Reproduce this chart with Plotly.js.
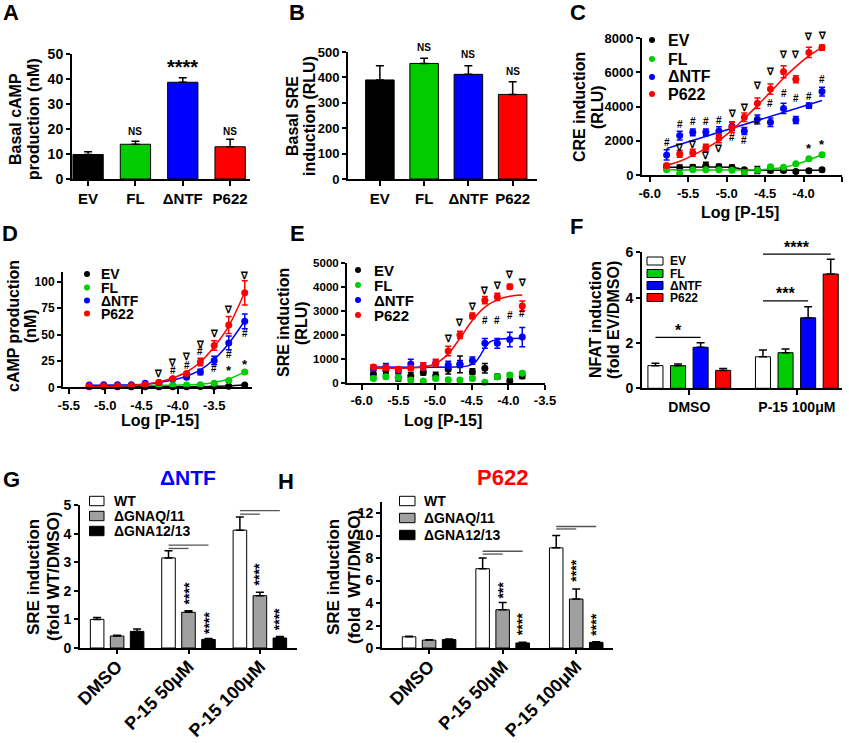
<!DOCTYPE html>
<html><head><meta charset="utf-8">
<script src="https://cdn.plot.ly/plotly-3.0.1.min.js"></script>
<style>html,body{margin:0;padding:0;background:#fff}</style>
</head><body><div id="chart" style="width:849px;height:743px"></div>
<script>
// ================= DATA =================
const groups4 = ['EV', 'FL', 'ΔNTF', 'P622'];
const colors4 = ['#000000', '#00cc00', '#0000ff', '#ff0000'];

// A: basal cAMP (nM)
const aVal = [9.8, 13.9, 38.7, 12.9];
const aErr = [1.1, 1.2, 1.8, 3.0];
// B: basal SRE (RLU)
const bVal = [390, 455, 412, 333];
const bErr = [56, 20, 34, 50];

// C: CRE induction vs log[P-15]
const cX = [-5.78, -5.61, -5.44, -5.27, -5.10, -4.93, -4.77, -4.60, -4.43, -4.26, -4.10, -3.93, -3.76];
const cEV = [450, 430, 450, 540, 480, 440, 300, 290, 280, 270, 200, 250, 300];
const cEVe = [100, 150, 150, 200, 150, 150, 100, 200, 150, 100, 100, 100, 100];
const cFL = [300, 80, 300, 300, 300, 280, 80, 280, 480, 450, 650, 950, 1180];
const cFLe = [50, 50, 50, 50, 50, 50, 50, 50, 80, 50, 50, 50, 100];
const cNTF = [1170, 2300, 2490, 2490, 2570, 2850, 2570, 3250, 3075, 3890, 3210, 4050, 4870];
const cNTFe = [300, 250, 200, 200, 250, 250, 200, 250, 250, 300, 200, 150, 250];
const cP622 = [560, 1230, 1300, 1600, 2140, 2780, 3370, 4190, 5020, 6030, 5590, 7160, 7440];
const cP622e = [100, 200, 200, 200, 250, 300, 250, 300, 300, 350, 200, 300, 150];
// fitted curves
const cFitP622X = [-5.78, -5.61, -5.44, -5.27, -5.10, -4.93, -4.77, -4.60, -4.43, -4.26, -4.10, -3.93, -3.76];
const cFitP622 = [560, 800, 1150, 1550, 2020, 2620, 3300, 4050, 4850, 5650, 6330, 6950, 7450];
const cFitNTFX = [-5.78, -3.76];
const cFitNTF = [1550, 4350];
const cFitEVX = [-5.78, -4.93, -4.85, -4.77, -4.60, -3.76];
const cFitEV = [450, 450, 390, 300, 280, 280];
const cFitFLX = [-5.78, -4.60, -4.43, -4.26, -4.10, -3.93, -3.76];
const cFitFL = [300, 300, 350, 450, 620, 880, 1180];
// significance marks
const cHashX = [-5.78, -5.61, -5.44, -5.27, -5.10, -4.93, -4.77, -4.60, -4.43, -4.26, -4.10, -3.93, -3.76];
const cHashY = [1890, 2920, 3110, 3110, 3210, 2180, 2040, 3110, 4190, 4730, 4440, 4570, 5550];
const cNablaX = [-5.61, -5.44, -5.27, -5.10, -4.93, -4.77, -4.60, -4.43, -4.26, -4.10, -3.93, -3.76];
const cNablaY = [1620, 1810, 1110, 1560, 3600, 3950, 5250, 6030, 7050, 7050, 8080, 8120];
const cStarX = [-3.93, -3.76];
const cStarY = [1560, 1810];
const cTickVals = [-6, -5.5, -5, -4.5, -4, -3.5];
const cTickText = ['-6.0', '-5.5', '-5.0', '-4.5', '-4.0', '-3.5'];

// D: cAMP production vs log[P-15]
const dX = [-5.22, -5.02, -4.83, -4.64, -4.45, -4.26, -4.07, -3.88, -3.69, -3.50, -3.30, -3.08];
const dEV = [0.5, 0.5, 0.5, 0.5, 0.6, 0.6, 0.6, 0.6, 0.7, 0.8, 1.0, 2.2];
const dEVe = [0.2, 0.2, 0.2, 0.2, 0.2, 0.2, 0.2, 0.2, 0.2, 0.2, 0.3, 0.4];
const dFL = [1.5, 1.6, 1.6, 1.8, 2.0, 2.0, 2.1, 2.2, 2.5, 3.8, 6.5, 14.5];
const dFLe = [0.3, 0.3, 0.3, 0.3, 0.3, 0.3, 0.3, 0.3, 0.4, 0.6, 1.0, 1.2];
const dNTF = [2.2, 2.3, 2.3, 2.5, 3.8, 4.5, 7.8, 9.5, 14.5, 25.5, 42, 62.5];
const dNTFe = [0.4, 0.4, 0.4, 0.4, 0.5, 0.6, 1.0, 1.5, 2.5, 4, 6.5, 7];
const dP622 = [1.0, 1.2, 1.3, 1.5, 2.5, 4.5, 8, 13, 24, 39.5, 59, 89.5];
const dP622e = [0.3, 0.3, 0.3, 0.3, 0.4, 0.6, 1.0, 1.5, 3.5, 4.5, 8, 11.5];
const dFitX = [-5.22, -4.83, -4.45, -4.26, -4.07, -3.88, -3.69, -3.50, -3.30, -3.08];
const dFitP622 = [0.8, 1.0, 2.8, 5.0, 8.8, 14.5, 24, 38.5, 58, 90];
const dFitNTF = [2.0, 2.1, 3.0, 4.6, 7.0, 10.5, 16.5, 26.5, 41.5, 63];
const dFitFL = [1.5, 1.6, 1.8, 1.9, 2.0, 2.3, 3.0, 4.6, 7.8, 14.6];
const dFitEV = [0.4, 0.4, 0.45, 0.5, 0.5, 0.55, 0.65, 0.9, 1.4, 2.4];
const dNablaX = [-4.26, -4.07, -3.88, -3.69, -3.50, -3.30, -3.08];
const dNablaY = [13.3, 23.3, 29, 41, 51, 74, 106];
const dHashX = [-4.07, -3.88, -3.69, -3.50, -3.30, -3.08];
const dHashY = [15.7, 21, 33.7, 18, 31.5, 51];
const dStarX = [-3.30, -3.08];
const dStarY = [15.7, 22];
const dTickVals = [-5.5, -5, -4.5, -4, -3.5];
const dTickText = ['-5.5', '-5.0', '-4.5', '-4.0', '-3.5'];

// E: SRE induction vs log[P-15]
const eX = [-5.84, -5.67, -5.50, -5.33, -5.16, -4.99, -4.82, -4.66, -4.49, -4.32, -4.15, -3.98, -3.81];
const eEV = [360, 530, 220, 280, 420, 290, 560, 760, 460, 600, 250, 70, 280];
const eEVe = [150, 150, 150, 150, 100, 150, 200, 350, 120, 200, 100, 100, 100];
const eFL = [180, 250, 220, 110, 70, 180, 125, 110, 170, 20, 250, 320, 390];
const eFLe = [80, 80, 80, 80, 50, 80, 80, 80, 80, 60, 80, 80, 80];
const eNTF = [600, 650, 500, 780, 670, 800, 740, 780, 920, 1640, 1640, 1800, 1900];
const eNTFe = [100, 150, 100, 200, 150, 150, 150, 150, 150, 200, 200, 300, 400];
const eP622 = [650, 620, 560, 610, 680, 830, 1320, 1990, 2780, 3440, 3580, 4000, 3200];
const eP622e = [100, 100, 100, 100, 150, 150, 200, 150, 120, 150, 150, 100, 200];
const eFitP622X = [-5.84, -5.33, -5.16, -4.99, -4.82, -4.66, -4.49, -4.32, -4.15, -3.98, -3.81];
const eFitP622 = [600, 610, 650, 800, 1200, 1850, 2600, 3150, 3450, 3600, 3650];
const eFitNTFX = [-5.84, -4.66, -4.55, -4.45, -4.38, -4.32, -4.25, -4.15, -3.98, -3.81];
const eFitNTF = [650, 660, 700, 850, 1150, 1450, 1700, 1800, 1840, 1850];
const eNablaX = [-4.82, -4.66, -4.49, -4.32, -4.15, -3.98, -3.81];
const eNablaY = [1850, 2500, 3190, 3860, 4030, 4490, 4170];
const eHashX = [-4.32, -4.15, -3.98, -3.81];
const eHashY = [2580, 2580, 2820, 2890];

// F: NFAT induction
const fGroups = ['DMSO', 'P-15 100μM'];
const fEV = [1.0, 1.39], fEVe = [0.1, 0.3];
const fFL = [1.0, 1.57], fFLe = [0.07, 0.16];
const fNTF = [1.81, 3.11], fNTFe = [0.2, 0.49];
const fP622 = [0.79, 5.04], fP622e = [0.08, 0.65];

// G, H: SRE induction in KO cells
const ghGroups = ['DMSO', 'P-15 50μM', 'P-15 100μM'];
const ghNames = ['WT', 'ΔGNAQ/11', 'ΔGNA12/13'];
const gWT = [1.0, 3.15, 4.12], gWTe = [0.07, 0.25, 0.46];
const gQ = [0.42, 1.25, 1.83], gQe = [0.03, 0.05, 0.12];
const g12 = [0.58, 0.30, 0.35], g12e = [0.08, 0.03, 0.05];
const hWT = [1.0, 7.05, 8.9], hWTe = [0.05, 0.95, 1.1];
const hQ = [0.7, 3.4, 4.35], hQe = [0.03, 0.65, 0.9];
const h12 = [0.75, 0.45, 0.5], h12e = [0.05, 0.05, 0.05];

// ================= LAYOUT HELPERS =================
const W = 849, H = 743;
const FONT = 'Arial, "Liberation Sans", Helvetica, sans-serif';
const X = px => px / W;
const Y = py => 1 - py / H;
const zeros = a => a.map(() => 0);

// panel geometry (pixel boxes and axis ranges)
const geo = {
  A: {xd: [72, 250], xr: [-0.34, 3.42], yd: [54, 179], yr: [0, 50]},
  B: {xd: [348, 537], xr: [-0.72, 3.55], yd: [52, 179], yr: [0, 500]},
  C: {xd: [642, 842], xr: [-6.1, -3.5], yd: [38, 175], yr: [0, 8000]},
  D: {xd: [63, 252], xr: [-5.58, -2.98], yd: [271.7, 387.3], yr: [0, 109.5]},
  E: {xd: [347, 545], xr: [-6.2, -3.5], yd: [262.7, 382.7], yr: [0, 5000]},
  F: {xd: [642, 842], xr: [-0.44, 1.42], yd: [252.3, 388.3], yr: [0, 6]},
  G: {xd: [80, 297], xr: [-0.52, 2.52], yd: [505, 648], yr: [0, 5]},
  H: {xd: [382, 613], xr: [-0.64, 2.5], yd: [501.75, 648], yr: [0, 13]}
};
const pxX = (g, v) => g.xd[0] + (v - g.xr[0]) / (g.xr[1] - g.xr[0]) * (g.xd[1] - g.xd[0]);
const pxY = (g, v) => g.yd[1] - (v - g.yr[0]) / (g.yr[1] - g.yr[0]) * (g.yd[1] - g.yd[0]);

function fnt(size, color) { return {family: FONT, size: size, color: color || '#000', weight: 700}; }
function xax(g, anchor, extra) {
  return Object.assign({
    domain: [X(g.xd[0]), X(g.xd[1])], range: g.xr, anchor: anchor, showline: true, linecolor: '#000', linewidth: 2,
    ticks: 'outside', ticklen: 5, tickwidth: 2, tickcolor: '#000',
    showgrid: false, zeroline: false, fixedrange: true, tickfont: fnt(13)
  }, extra || {});
}
function yax(g, anchor, extra) {
  return Object.assign({
    domain: [Y(g.yd[1]), Y(g.yd[0])], range: g.yr, anchor: anchor, showline: true, linecolor: '#000', linewidth: 2,
    ticks: 'outside', ticklen: 4, tickwidth: 2, tickcolor: '#000',
    showgrid: false, zeroline: false, fixedrange: true, tickfont: fnt(13)
  }, extra || {});
}
function ptxt(px, py, text, size, o) {
  return Object.assign({x: X(px), y: Y(py), xref: 'paper', yref: 'paper', text: text, showarrow: false,
    font: fnt(size), xanchor: 'center', yanchor: 'middle'}, o || {});
}
function dtxt(g, xv, yv, text, size, o) { return ptxt(pxX(g, xv), pxY(g, yv), text, size, o); }
function errUp(arr, col) {
  return {type: 'data', symmetric: false, array: arr, arrayminus: zeros(arr), color: col || '#000', thickness: 1.5, width: 4};
}
function errSym(arr, col) {
  return {type: 'data', array: arr, color: col, thickness: 1.5, width: 3};
}

const traces = [];
const annotations = [];
const shapes = [];

// ---- A ----
traces.push({type: 'bar', x: groups4, y: aVal, xaxis: 'x', yaxis: 'y', width: 0.64,
  marker: {color: colors4, line: {color: '#000', width: 1}}, error_y: errUp(aErr)});
annotations.push(dtxt(geo.A, 2, 45, '****', 20));
annotations.push(dtxt(geo.A, 1, 18.8, 'NS', 10));
annotations.push(dtxt(geo.A, 3, 18.8, 'NS', 10));

// ---- B ----
traces.push({type: 'bar', x: groups4, y: bVal, xaxis: 'x2', yaxis: 'y2', width: 0.645,
  marker: {color: colors4, line: {color: '#000', width: 1}}, error_y: errUp(bErr)});
annotations.push(dtxt(geo.B, 1, 517, 'NS', 10));
annotations.push(dtxt(geo.B, 2, 491, 'NS', 10));
annotations.push(dtxt(geo.B, 3, 425, 'NS', 10));

// ---- C, D, E dose-response panels ----
function doseTraces(xa, ya, xs, series, errs, fits) {
  series.forEach((s, i) => {
    if (fits[i]) traces.push({type: 'scatter', mode: 'lines', x: fits[i][0], y: fits[i][1], xaxis: xa, yaxis: ya,
      line: {color: colors4[i], width: 1.5, shape: 'spline', smoothing: 0.8}, hoverinfo: 'skip'});
    traces.push({type: 'scatter', mode: 'markers', x: xs, y: s, xaxis: xa, yaxis: ya, name: groups4[i],
      marker: {color: colors4[i], size: 7}, error_y: errSym(errs[i], colors4[i]), cliponaxis: false});
  });
}
doseTraces('x3', 'y3', cX, [cEV, cFL, cNTF, cP622], [cEVe, cFLe, cNTFe, cP622e],
  [[cFitEVX, cFitEV], [cFitFLX, cFitFL], [cFitNTFX, cFitNTF], [cFitP622X, cFitP622]]);
doseTraces('x4', 'y4', dX, [dEV, dFL, dNTF, dP622], [dEVe, dFLe, dNTFe, dP622e],
  [[dFitX, dFitEV], [dFitX, dFitFL], [dFitX, dFitNTF], [dFitX, dFitP622]]);
doseTraces('x5', 'y5', eX, [eEV, eFL, eNTF, eP622], [eEVe, eFLe, eNTFe, eP622e],
  [null, null, [eFitNTFX, eFitNTF], [eFitP622X, eFitP622]]);

function marks(g, xs, ys, text, size) {
  xs.forEach((x, i) => annotations.push(dtxt(g, x, ys[i], text, size)));
}
marks(geo.C, cHashX, cHashY, '#', 10);
marks(geo.C, cNablaX, cNablaY, '∇', 10);
marks(geo.C, cStarX, cStarY, '*', 13);
marks(geo.D, dHashX, dHashY, '#', 10);
marks(geo.D, dNablaX, dNablaY, '∇', 10);
marks(geo.D, dStarX, dStarY, '*', 13);
marks(geo.E, eHashX, eHashY, '#', 10);
marks(geo.E, eNablaX, eNablaY, '∇', 10);

// dose-response legends
function dotLegend(mx, tx, rows, size) {
  groups4.forEach((g, i) => {
    shapes.push({type: 'circle', xref: 'paper', yref: 'paper', x0: X(mx - 3), x1: X(mx + 3), y0: Y(rows[i] + 3), y1: Y(rows[i] - 3),
      fillcolor: colors4[i], line: {width: 0}});
    annotations.push(ptxt(tx, rows[i], g, size, {xanchor: 'left'}));
  });
}
dotLegend(652, 666, [40, 59, 77, 94], 16);
dotLegend(87, 99, [274, 287.5, 300.5, 313.5], 14);
dotLegend(358, 372, [270, 285, 300, 315], 15);

// ---- F ----
const fOff = [-0.385, -0.175, 0.035, 0.245];
const fCols = ['#ffffff', '#00cc00', '#0000ff', '#ff0000'];
[[fEV, fEVe], [fFL, fFLe], [fNTF, fNTFe], [fP622, fP622e]].forEach((s, i) => {
  traces.push({type: 'bar', x: fGroups, y: s[0], xaxis: 'x6', yaxis: 'y6', name: groups4[i], width: 0.14, offset: fOff[i],
    marker: {color: fCols[i], line: {color: '#000', width: 1}}, error_y: errUp(s[1])});
});
function hline(xa, ya, x0, x1, y, col) {
  shapes.push({type: 'line', xref: xa, yref: ya, x0: x0, x1: x1, y0: y, y1: y, line: {color: col, width: 1.3}});
}
hline('x6', 'y6', -0.315, 0.105, 2.25, '#000');
hline('x6', 'y6', 0.685, 1.105, 3.86, '#000');
hline('x6', 'y6', 0.685, 1.315, 5.92, '#000');
annotations.push(dtxt(geo.F, -0.105, 2.56, '*', 16));
annotations.push(dtxt(geo.F, 0.895, 4.18, '***', 16));
annotations.push(dtxt(geo.F, 1.0, 6.22, '****', 16));
[261, 273.5, 285.5, 297.5].forEach((r, i) => {
  shapes.push({type: 'rect', xref: 'paper', yref: 'paper', x0: X(647), x1: X(663), y0: Y(r + 4), y1: Y(r - 4),
    fillcolor: fCols[i], line: {color: '#000', width: 1}});
  annotations.push(ptxt(668, r, groups4[i], 12, {xanchor: 'left'}));
});

// ---- G, H ----
const ghCols = ['#ffffff', '#a0a0a0', '#000000'];
const gOff = [-0.375, -0.095, 0.185];
const hOff = [-0.364, -0.092, 0.18];
[[gWT, gWTe], [gQ, gQe], [g12, g12e]].forEach((s, i) => {
  traces.push({type: 'bar', x: ghGroups, y: s[0], xaxis: 'x7', yaxis: 'y7', name: ghNames[i], width: 0.19, offset: gOff[i],
    marker: {color: ghCols[i], line: {color: '#000', width: 1}}, error_y: errUp(s[1])});
});
[[hWT, hWTe], [hQ, hQe], [h12, h12e]].forEach((s, i) => {
  traces.push({type: 'bar', x: ghGroups, y: s[0], xaxis: 'x8', yaxis: 'y8', name: ghNames[i], width: 0.184, offset: hOff[i],
    marker: {color: ghCols[i], line: {color: '#000', width: 1}}, error_y: errUp(s[1])});
});
hline('x7', 'y7', 0.72, 1.28, 3.6, '#555'); hline('x7', 'y7', 0.72, 1.0, 3.48, '#555');
hline('x7', 'y7', 1.72, 2.28, 4.8, '#555'); hline('x7', 'y7', 1.72, 2.0, 4.68, '#555');
hline('x8', 'y8', 0.728, 1.272, 8.6, '#555'); hline('x8', 'y8', 0.728, 1.0, 8.35, '#555');
hline('x8', 'y8', 1.728, 2.272, 10.8, '#555'); hline('x8', 'y8', 1.728, 2.0, 10.58, '#555');
function vstars(g, x, y, s) { annotations.push(dtxt(g, x, y, s, 14, {textangle: -90})); }
vstars(geo.G, 1.0, 1.89, '****'); vstars(geo.G, 1.28, 0.89, '****');
vstars(geo.G, 2.0, 2.57, '****'); vstars(geo.G, 2.28, 1.0, '****');
vstars(geo.H, 1.0, 5.16, '***'); vstars(geo.H, 1.272, 2.09, '****');
vstars(geo.H, 2.0, 6.89, '****'); vstars(geo.H, 2.272, 2.09, '****');
function boxLegend(bx0, bx1, tx, rows) {
  rows.forEach((r, i) => {
    shapes.push({type: 'rect', xref: 'paper', yref: 'paper', x0: X(bx0), x1: X(bx1), y0: Y(r + 4.7), y1: Y(r - 4.7),
      fillcolor: ghCols[i], line: {color: '#000', width: 1}});
    annotations.push(ptxt(tx, r, ghNames[i], 14, {xanchor: 'left'}));
  });
}
boxLegend(89.5, 104, 112, [501, 516, 531]);
boxLegend(399.5, 415, 422, [501, 518, 535]);

// ---- panel letters, titles ----
[['A', 11, 13], ['B', 297, 13], ['C', 578, 13], ['D', 10, 233], ['E', 297, 233], ['F', 576, 226], ['G', 11, 479], ['H', 286, 481]]
  .forEach(l => annotations.push(ptxt(l[1], l[2], l[0], 22)));
annotations.push(ptxt(188, 477, 'ΔNTF', 21, {font: fnt(21, '#0000ff')}));
annotations.push(ptxt(502, 477, 'P622', 22, {font: fnt(22, '#ff0000')}));

// y-axis titles: [x line1, x line2, y centre, line1, line2, size]
const ytitles = [
  [15, 33, 119, 'Basal cAMP', 'production (nM)', 16],
  [293, 310, 116, 'Basal SRE', 'induction (RLU)', 16],
  [580, 598, 107, 'CRE induction', '(RLU)', 16],
  [13, 30, 326, 'cAMP production', '(nM)', 16],
  [283, 301, 323, 'SRE induction', '(RLU)', 16],
  [595, 613, 320, 'NFAT induction', '(fold EV/DMSO)', 16],
  [33, 53, 577, 'SRE induction', '(fold WT/DMSO)', 17],
  [333, 354, 577, 'SRE induction', '(fold  WT/DMSO)', 17]
];
ytitles.forEach(t => {
  annotations.push(ptxt(t[0], t[2], t[3], t[5], {textangle: -90}));
  annotations.push(ptxt(t[1], t[2], t[4], t[5], {textangle: -90}));
});
annotations.push(ptxt(740, 212, 'Log [P-15]', 16));
annotations.push(ptxt(160, 421, 'Log [P-15]', 16));
annotations.push(ptxt(443, 421, 'Log [P-15]', 16));

const layout = {
  width: W, height: H, margin: {l: 0, r: 0, t: 0, b: 0}, showlegend: false,
  paper_bgcolor: '#fff', plot_bgcolor: 'rgba(0,0,0,0)', barmode: 'overlay',
  font: {family: FONT, color: '#000'},
  xaxis: xax(geo.A, 'y', {type: 'category', tickfont: fnt(15)}),
  yaxis: yax(geo.A, 'x', {dtick: 10, tickfont: fnt(14)}),
  xaxis2: xax(geo.B, 'y2', {type: 'category', tickfont: fnt(15)}),
  yaxis2: yax(geo.B, 'x2', {dtick: 100, tickfont: fnt(13)}),
  xaxis3: xax(geo.C, 'y3', {tickvals: cTickVals, ticktext: cTickText}),
  yaxis3: yax(geo.C, 'x3', {dtick: 2000, tickformat: 'd'}),
  xaxis4: xax(geo.D, 'y4', {tickvals: dTickVals, ticktext: dTickText}),
  yaxis4: yax(geo.D, 'x4', {tickvals: [0, 25, 50, 75, 100], tickfont: fnt(12)}),
  xaxis5: xax(geo.E, 'y5', {tickvals: cTickVals, ticktext: cTickText}),
  yaxis5: yax(geo.E, 'x5', {dtick: 1000, tickformat: 'd', tickfont: fnt(11.5)}),
  xaxis6: xax(geo.F, 'y6', {type: 'category', tickfont: fnt(14)}),
  yaxis6: yax(geo.F, 'x6', {dtick: 2, tickfont: fnt(14)}),
  xaxis7: xax(geo.G, 'y7', {type: 'category', tickangle: -45, ticklen: 4, ticklabelstandoff: -5, tickfont: fnt(18)}),
  yaxis7: yax(geo.G, 'x7', {dtick: 1, tickfont: fnt(14)}),
  xaxis8: xax(geo.H, 'y8', {type: 'category', tickangle: -45, ticklen: 4, ticklabelstandoff: -5, tickfont: fnt(18)}),
  yaxis8: yax(geo.H, 'x8', {tickvals: [0, 2, 4, 6, 8, 10, 12], tickfont: fnt(14)}),
  annotations: annotations,
  shapes: shapes
};
Plotly.newPlot('chart', traces, layout, {staticPlot: true, displayModeBar: false});
</script>
</body></html>
